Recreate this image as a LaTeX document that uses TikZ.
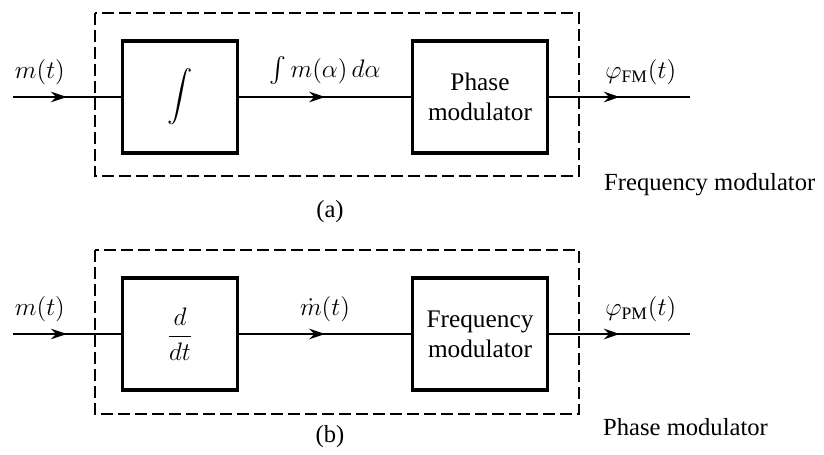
\documentclass[tikz,border=0pt]{standalone}
\usepackage{fontspec}
\setmainfont{Liberation Serif}
\usepackage{amsmath}
\usetikzlibrary{arrows.meta, decorations.markings, positioning}

\tikzset{
  blok/.style={draw, line width=2.2pt, minimum width=#1, minimum height=2.24cm,
    align=center, font=\fontsize{14.4}{17}\selectfont},
  sinyal/.style={line width=1.1pt, postaction={decorate},
    decoration={markings, mark=at position 0.5 with {\arrow{Stealth[length=9pt,width=6pt]}}}},
  teks/.style={above=3pt, font=\fontsize{14.4}{17}\selectfont},
  keterangan/.style={font=\fontsize{14}{17}\selectfont},
  putus/.style={line width=1.1pt, dash pattern=on 0.24cm off 0.1cm}
}

\begin{document}
\begin{tikzpicture}[x=0.02cm, y=-0.02cm]
  \useasboundingbox (0,0) rectangle (824,455);

  % Modulator frekuensi (a)
  \draw[putus] (95,13) rectangle (579,176);
  \node[blok=2.3cm] (int) at (180,97) {$\displaystyle\int$};
  \node[blok=2.7cm] (pm) at (480,97) {Phase\\modulator};
  \coordinate (in1) at (13,97);
  \coordinate (out1) at (690,97);
  \draw[sinyal] (in1) -- node[teks, pos=0.25] (m1) {$m(t)$} (int.west);
  \draw[sinyal] (int.east) -- node[teks] (im) {$\int m(\alpha)\,d\alpha$} (pm.west);
  \draw[sinyal] (pm.east) -- node[teks, pos=0.65] (phifm) {$\varphi_{\mathrm{FM}}(t)$} (out1);
  \node[keterangan, anchor=west] (judul1) at (598,185) {Frequency modulator};
  \node[keterangan] (a) at (330,212) {(a)};

  % Modulator fase (b)
  \draw[putus] (95,250) rectangle (579,414);
  \node[blok=2.3cm] (diff) at (180,334) {$\dfrac{d}{dt}$};
  \node[blok=2.7cm] (fm) at (480,334) {Frequency\\modulator};
  \coordinate (in2) at (13,334);
  \coordinate (out2) at (690,334);
  \draw[sinyal] (in2) -- node[teks, pos=0.25] (m2) {$m(t)$} (diff.west);
  \draw[sinyal] (diff.east) -- node[teks] (md) {$\dot{m}(t)$} (fm.west);
  \draw[sinyal] (fm.east) -- node[teks, pos=0.65] (phipm) {$\varphi_{\mathrm{PM}}(t)$} (out2);
  \node[keterangan, anchor=west] (judul2) at (597,427) {Phase modulator};
  \node[keterangan] (b) at (330,437) {(b)};
\end{tikzpicture}
\end{document}
